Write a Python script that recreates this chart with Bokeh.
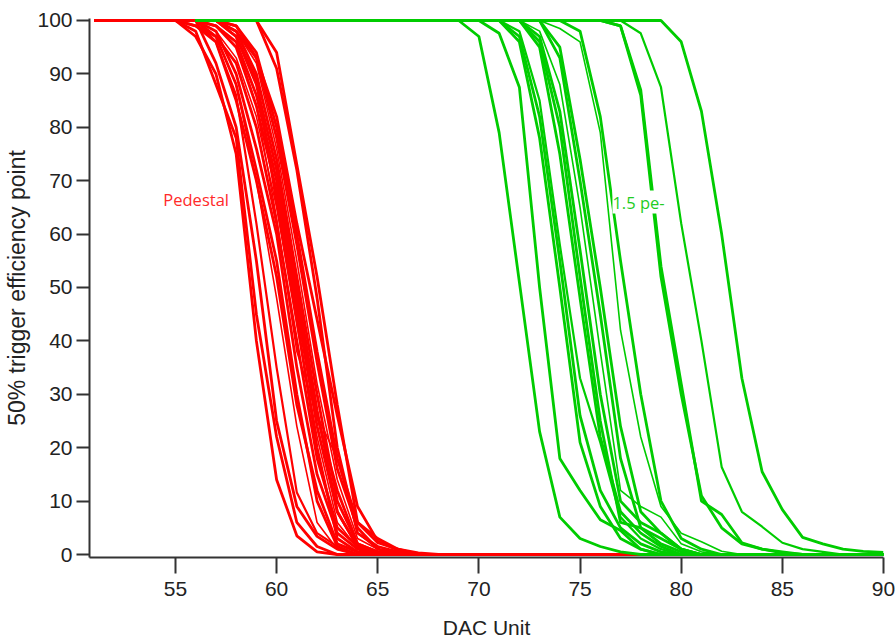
from bokeh.plotting import figure
from bokeh.models import Range1d, Label, FixedTicker, ColumnDataSource
from bokeh.embed import file_html
from bokeh.resources import INLINE

# ---------------- data ----------------
x_ticks = [55, 60, 65, 70, 75, 80, 85, 90]
y_ticks = [0, 10, 20, 30, 40, 50, 60, 70, 80, 90, 100]

red_first_x = 51
red_last_x = 78
green_first_x = 56
green_last_x = 90

# (DAC value where the curve leaves 100, efficiency values from there on; 0 afterwards)
pedestal_curves = [
    (55, [100, 97, 90, 75, 40, 14, 3.5, 0.5, 0]),
    (55, [100, 98, 88, 78, 45, 22, 6, 1.5, 0]),
    (56, [100, 92, 80, 55, 25, 9, 3.4, 1, 0]),
    (56, [100, 96, 86, 62, 35, 11.6, 4, 1.5, 0]),
    (55, [100, 99, 97, 88, 72, 55, 30, 10, 1.5, 0]),
    (55, [100, 99, 96, 85, 70, 52, 28, 12, 2, 0.5, 0]),
    (56, [100, 98, 90, 76, 60, 35, 15, 4, 1, 0]),
    (56, [100, 97, 92, 80, 62, 40, 18, 5, 1.5, 0.5, 0]),
    (56, [100, 98, 93, 82, 65, 43, 22, 6, 1.2, 0]),
    (56, [100, 99, 95, 84, 68, 46, 24, 8, 1.5, 0.5, 0]),
    (56, [100, 99, 96, 86, 70, 48, 26, 12, 2, 0.5, 0]),
    (57, [100, 97, 88, 72, 50, 27, 8, 1.5, 0]),
    (57, [100, 98, 90, 74, 52, 30, 10, 2, 0.5, 0]),
    (57, [100, 98, 92, 76, 55, 32, 14, 3, 1, 0]),
    (57, [100, 99, 93, 78, 58, 36, 16, 5, 1, 0.3, 0]),
    (57, [100, 99, 94, 80, 60, 38, 18, 6, 3, 1, 0]),
    (56, [100, 99, 96, 84, 63, 38, 26, 18, 4, 1, 0]),
    (57, [100, 97, 89, 66, 44, 20, 3, 0.5, 0]),
    (56, [100, 97, 88, 70, 48, 24, 6, 1, 0]),
    (59, [100, 91, 72, 48, 20, 4, 1.5, 0.5, 0]),
    (59, [100, 94, 73, 52, 28, 6, 2.2, 1, 0.3, 0]),
    (57, [100, 98, 93, 82, 62, 44, 26, 9, 2.5, 0.8, 0]),
]
pedestal_widths = [2.8, 2.8, 2.8, 2.2, 2.8, 2.8, 2.8, 2.8, 1.6, 2.8, 2.8,
                   2.8, 2.8, 1.6, 2.8, 2.8, 1.6, 2.8, 1.6, 2.8, 2.8, 2.8]

pe_curves = [
    (69, [100, 97, 79, 51, 23, 7, 3, 1.5, 0.5, 0]),
    (70, [100, 97.6, 87.5, 50, 18, 12, 6.5, 4.5, 1, 0]),
    (71, [100, 96, 78, 50, 21, 9, 3, 1, 0]),
    (71, [100, 97, 82, 55, 26, 12, 5, 2, 0.5, 0]),
    (71, [100, 98, 85, 58, 33, 21, 7, 3, 1, 0]),
    (72, [100, 95, 75, 48, 22, 8, 4, 1.5, 0]),
    (72, [100, 96, 80, 52, 25, 6, 5, 3, 1, 0]),
    (72, [100, 97, 83, 57, 30, 10, 6, 4, 1, 0]),
    (72, [100, 98, 88, 65, 38, 12, 9, 7, 2, 0.5, 0]),
    (73, [100, 93, 70, 45, 18, 5, 2, 0.5, 0]),
    (73, [100, 95, 74, 50, 24, 8, 4, 1, 0]),
    (73, [100, 98.5, 96, 79, 42, 22, 9, 4, 2.4, 0.6, 0]),
    (74, [100, 98, 82, 55, 30, 10, 3, 1, 0]),
    (76, [100, 99, 87, 54, 32, 10, 7.5, 2.2, 1, 0.5, 0]),
    (76, [100, 99, 86, 52, 30, 11, 5, 2, 1, 0.3, 0]),
    (77, [100, 97.6, 87.5, 62, 40, 16.4, 8, 5.2, 2.2, 1, 0.5, 0]),
    (79, [100, 96, 83, 60, 33, 15.5, 8.4, 3.2, 2, 1, 0.6, 0.4]),
]
pe_widths = [2.8, 2.8, 2.8, 2.8, 2.2, 2.8, 2.8, 2.8, 1.6, 2.8, 2.8,
             1.6, 2.8, 2.8, 2.8, 2.2, 2.8]

red_color = "#ff0000"
green_color = "#00cc00"


def full_curve(first_x, last_x, start, vals):
    xs = list(range(first_x, last_x + 1))
    ys = []
    for x in xs:
        if x < start:
            ys.append(100)
        elif x - start < len(vals):
            ys.append(vals[x - start])
        else:
            ys.append(0)
    return xs, ys


red_xs, red_ys = [], []
for start, vals in pedestal_curves:
    xs, ys = full_curve(red_first_x, red_last_x, start, vals)
    red_xs.append(xs)
    red_ys.append(ys)

green_xs, green_ys = [], []
for start, vals in pe_curves:
    xs, ys = full_curve(green_first_x, green_last_x, start, vals)
    green_xs.append(xs)
    green_ys.append(ys)

# ---------------- figure ----------------
p = figure(width=895, height=641,
           x_range=Range1d(50.75, 90.0), y_range=Range1d(-0.56, 100.37),
           output_backend="svg", toolbar_location=None,
           min_border_left=89, min_border_right=12,
           min_border_top=18, min_border_bottom=83)

p.outline_line_color = None
p.xgrid.visible = False
p.ygrid.visible = False
p.background_fill_color = "white"
p.border_fill_color = "white"

red_src = ColumnDataSource(dict(xs=red_xs, ys=red_ys, w=pedestal_widths))
green_src = ColumnDataSource(dict(xs=green_xs, ys=green_ys, w=pe_widths))
p.multi_line("xs", "ys", source=red_src, line_color=red_color, line_width="w")
p.multi_line("xs", "ys", source=green_src, line_color=green_color, line_width="w")

tick_font = "Liberation Sans"
axis_col = "#333333"

for ax in (p.xaxis[0], p.yaxis[0]):
    ax.axis_line_color = axis_col
    ax.axis_line_width = 2
    ax.major_tick_line_color = axis_col
    ax.major_tick_line_width = 2
    ax.major_tick_in = 0
    ax.minor_tick_line_color = None
    ax.major_label_text_font = tick_font
    ax.major_label_text_font_size = "21px"
    ax.major_label_text_color = "#222222"
    ax.axis_label_text_font_style = "normal"
    ax.axis_label_text_color = "#222222"

p.xaxis.ticker = FixedTicker(ticks=x_ticks)
p.yaxis.ticker = FixedTicker(ticks=y_ticks)
p.xaxis.major_tick_out = 16
p.yaxis.major_tick_out = 13
p.xaxis.major_label_standoff = 8
p.yaxis.major_label_standoff = 4

p.xaxis.axis_label = "DAC Unit"
p.xaxis.axis_label_text_font = tick_font
p.xaxis.axis_label_text_font_size = "21px"
p.xaxis.axis_label_standoff = 17

p.yaxis.axis_label = "50% trigger efficiency point"
p.yaxis.axis_label_text_font = "Liberation Sans"
p.yaxis.axis_label_text_font_size = "23px"
p.yaxis.axis_label_standoff = 4

p.add_layout(Label(x=54.4, y=66.4, text="Pedestal", text_color="#ff2a2a",
                   text_font="Open Sans", text_font_size="16.5px",
                   text_baseline="middle"))
p.add_layout(Label(x=76.6, y=66.0, text="1.5 pe-", text_color="#22cc22",
                   text_font="Open Sans", text_font_size="16.5px",
                   text_baseline="middle", background_fill_color="white"))

open("out.html", "w").write(file_html(p, INLINE))
